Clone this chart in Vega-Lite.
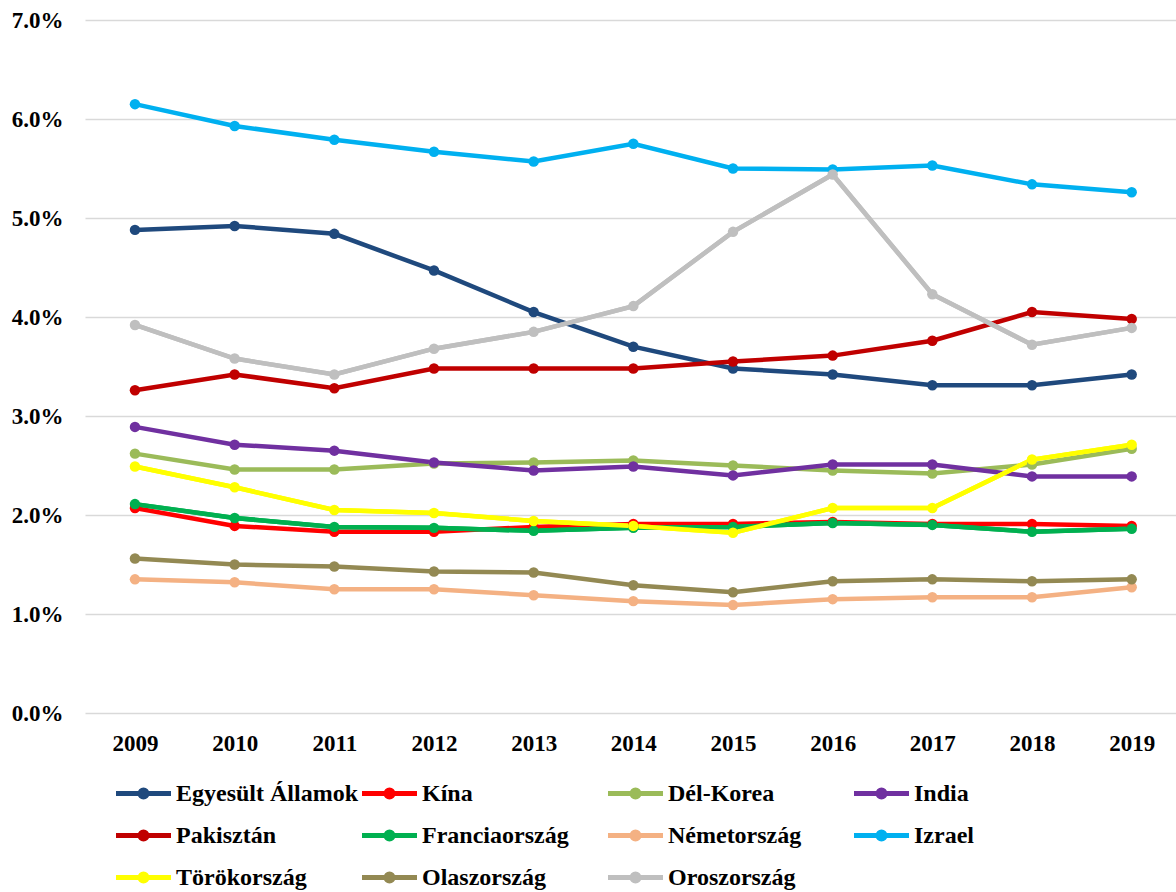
{
  "$schema": "https://vega.github.io/schema/vega-lite/v6.json",
  "autosize": {"type": "none"},
  "width": 1091,
  "height": 693,
  "padding": {"left": 85, "top": 20, "right": 0, "bottom": 179},
  "background": "white",
  "config": {
    "font": "Liberation Serif",
    "view": {"stroke": null}
  },
  "data": {
    "values": [
      {"country": "Egyesült Államok", "year": "2009", "value": 4.88},
      {"country": "Egyesült Államok", "year": "2010", "value": 4.92},
      {"country": "Egyesült Államok", "year": "2011", "value": 4.84},
      {"country": "Egyesült Államok", "year": "2012", "value": 4.47},
      {"country": "Egyesült Államok", "year": "2013", "value": 4.05},
      {"country": "Egyesült Államok", "year": "2014", "value": 3.70},
      {"country": "Egyesült Államok", "year": "2015", "value": 3.48},
      {"country": "Egyesült Államok", "year": "2016", "value": 3.42},
      {"country": "Egyesült Államok", "year": "2017", "value": 3.31},
      {"country": "Egyesült Államok", "year": "2018", "value": 3.31},
      {"country": "Egyesült Államok", "year": "2019", "value": 3.42},
      {"country": "Kína", "year": "2009", "value": 2.07},
      {"country": "Kína", "year": "2010", "value": 1.89},
      {"country": "Kína", "year": "2011", "value": 1.83},
      {"country": "Kína", "year": "2012", "value": 1.83},
      {"country": "Kína", "year": "2013", "value": 1.88},
      {"country": "Kína", "year": "2014", "value": 1.91},
      {"country": "Kína", "year": "2015", "value": 1.91},
      {"country": "Kína", "year": "2016", "value": 1.93},
      {"country": "Kína", "year": "2017", "value": 1.91},
      {"country": "Kína", "year": "2018", "value": 1.91},
      {"country": "Kína", "year": "2019", "value": 1.89},
      {"country": "Dél-Korea", "year": "2009", "value": 2.62},
      {"country": "Dél-Korea", "year": "2010", "value": 2.46},
      {"country": "Dél-Korea", "year": "2011", "value": 2.46},
      {"country": "Dél-Korea", "year": "2012", "value": 2.52},
      {"country": "Dél-Korea", "year": "2013", "value": 2.53},
      {"country": "Dél-Korea", "year": "2014", "value": 2.55},
      {"country": "Dél-Korea", "year": "2015", "value": 2.50},
      {"country": "Dél-Korea", "year": "2016", "value": 2.45},
      {"country": "Dél-Korea", "year": "2017", "value": 2.42},
      {"country": "Dél-Korea", "year": "2018", "value": 2.51},
      {"country": "Dél-Korea", "year": "2019", "value": 2.67},
      {"country": "India", "year": "2009", "value": 2.89},
      {"country": "India", "year": "2010", "value": 2.71},
      {"country": "India", "year": "2011", "value": 2.65},
      {"country": "India", "year": "2012", "value": 2.53},
      {"country": "India", "year": "2013", "value": 2.45},
      {"country": "India", "year": "2014", "value": 2.49},
      {"country": "India", "year": "2015", "value": 2.40},
      {"country": "India", "year": "2016", "value": 2.51},
      {"country": "India", "year": "2017", "value": 2.51},
      {"country": "India", "year": "2018", "value": 2.39},
      {"country": "India", "year": "2019", "value": 2.39},
      {"country": "Pakisztán", "year": "2009", "value": 3.26},
      {"country": "Pakisztán", "year": "2010", "value": 3.42},
      {"country": "Pakisztán", "year": "2011", "value": 3.28},
      {"country": "Pakisztán", "year": "2012", "value": 3.48},
      {"country": "Pakisztán", "year": "2013", "value": 3.48},
      {"country": "Pakisztán", "year": "2014", "value": 3.48},
      {"country": "Pakisztán", "year": "2015", "value": 3.55},
      {"country": "Pakisztán", "year": "2016", "value": 3.61},
      {"country": "Pakisztán", "year": "2017", "value": 3.76},
      {"country": "Pakisztán", "year": "2018", "value": 4.05},
      {"country": "Pakisztán", "year": "2019", "value": 3.98},
      {"country": "Franciaország", "year": "2009", "value": 2.11},
      {"country": "Franciaország", "year": "2010", "value": 1.97},
      {"country": "Franciaország", "year": "2011", "value": 1.88},
      {"country": "Franciaország", "year": "2012", "value": 1.87},
      {"country": "Franciaország", "year": "2013", "value": 1.84},
      {"country": "Franciaország", "year": "2014", "value": 1.87},
      {"country": "Franciaország", "year": "2015", "value": 1.88},
      {"country": "Franciaország", "year": "2016", "value": 1.92},
      {"country": "Franciaország", "year": "2017", "value": 1.90},
      {"country": "Franciaország", "year": "2018", "value": 1.83},
      {"country": "Franciaország", "year": "2019", "value": 1.86},
      {"country": "Németország", "year": "2009", "value": 1.35},
      {"country": "Németország", "year": "2010", "value": 1.32},
      {"country": "Németország", "year": "2011", "value": 1.25},
      {"country": "Németország", "year": "2012", "value": 1.25},
      {"country": "Németország", "year": "2013", "value": 1.19},
      {"country": "Németország", "year": "2014", "value": 1.13},
      {"country": "Németország", "year": "2015", "value": 1.09},
      {"country": "Németország", "year": "2016", "value": 1.15},
      {"country": "Németország", "year": "2017", "value": 1.17},
      {"country": "Németország", "year": "2018", "value": 1.17},
      {"country": "Németország", "year": "2019", "value": 1.27},
      {"country": "Izrael", "year": "2009", "value": 6.15},
      {"country": "Izrael", "year": "2010", "value": 5.93},
      {"country": "Izrael", "year": "2011", "value": 5.79},
      {"country": "Izrael", "year": "2012", "value": 5.67},
      {"country": "Izrael", "year": "2013", "value": 5.57},
      {"country": "Izrael", "year": "2014", "value": 5.75},
      {"country": "Izrael", "year": "2015", "value": 5.50},
      {"country": "Izrael", "year": "2016", "value": 5.49},
      {"country": "Izrael", "year": "2017", "value": 5.53},
      {"country": "Izrael", "year": "2018", "value": 5.34},
      {"country": "Izrael", "year": "2019", "value": 5.26},
      {"country": "Törökország", "year": "2009", "value": 2.49},
      {"country": "Törökország", "year": "2010", "value": 2.28},
      {"country": "Törökország", "year": "2011", "value": 2.05},
      {"country": "Törökország", "year": "2012", "value": 2.02},
      {"country": "Törökország", "year": "2013", "value": 1.94},
      {"country": "Törökország", "year": "2014", "value": 1.89},
      {"country": "Törökország", "year": "2015", "value": 1.82},
      {"country": "Törökország", "year": "2016", "value": 2.07},
      {"country": "Törökország", "year": "2017", "value": 2.07},
      {"country": "Törökország", "year": "2018", "value": 2.56},
      {"country": "Törökország", "year": "2019", "value": 2.71},
      {"country": "Olaszország", "year": "2009", "value": 1.56},
      {"country": "Olaszország", "year": "2010", "value": 1.50},
      {"country": "Olaszország", "year": "2011", "value": 1.48},
      {"country": "Olaszország", "year": "2012", "value": 1.43},
      {"country": "Olaszország", "year": "2013", "value": 1.42},
      {"country": "Olaszország", "year": "2014", "value": 1.29},
      {"country": "Olaszország", "year": "2015", "value": 1.22},
      {"country": "Olaszország", "year": "2016", "value": 1.33},
      {"country": "Olaszország", "year": "2017", "value": 1.35},
      {"country": "Olaszország", "year": "2018", "value": 1.33},
      {"country": "Olaszország", "year": "2019", "value": 1.35},
      {"country": "Oroszország", "year": "2009", "value": 3.92},
      {"country": "Oroszország", "year": "2010", "value": 3.58},
      {"country": "Oroszország", "year": "2011", "value": 3.42},
      {"country": "Oroszország", "year": "2012", "value": 3.68},
      {"country": "Oroszország", "year": "2013", "value": 3.85},
      {"country": "Oroszország", "year": "2014", "value": 4.11},
      {"country": "Oroszország", "year": "2015", "value": 4.86},
      {"country": "Oroszország", "year": "2016", "value": 5.44},
      {"country": "Oroszország", "year": "2017", "value": 4.23},
      {"country": "Oroszország", "year": "2018", "value": 3.72},
      {"country": "Oroszország", "year": "2019", "value": 3.89}
    ]
  },
  "encoding": {
    "x": {
      "field": "year",
      "type": "ordinal",
      "scale": {"type": "point", "padding": 0.473, "align": 0.53},
      "axis": {
        "title": null,
        "domain": false,
        "ticks": false,
        "labelAngle": 0,
        "labelFont": "Liberation Serif",
        "labelFontWeight": "bold",
        "labelFontSize": 23,
        "labelColor": "#000000",
        "labelPadding": 19
      }
    },
    "y": {
      "field": "value",
      "type": "quantitative",
      "scale": {"domain": [0, 7], "nice": false, "zero": true},
      "axis": {
        "title": null,
        "domain": false,
        "ticks": false,
        "values": [0, 1, 2, 3, 4, 5, 6, 7],
        "labelExpr": "format(datum.value, '.1f') + '%'",
        "labelFont": "Liberation Serif",
        "labelFontWeight": "bold",
        "labelFontSize": 23,
        "labelColor": "#000000",
        "labelPadding": 22,
        "grid": true,
        "gridColor": "#D9D9D9",
        "gridWidth": 1.5
      }
    },
    "color": {
      "field": "country",
      "type": "nominal",
      "scale": {
        "domain": ["Egyesült Államok", "Kína", "Dél-Korea", "India", "Pakisztán", "Franciaország", "Németország", "Izrael", "Törökország", "Olaszország", "Oroszország"],
        "range": ["#1F497D", "#FF0000", "#9BBB59", "#7030A0", "#C00000", "#00B050", "#F4B183", "#00B0F0", "#FFFF00", "#938953", "#BFBFBF"]
      },
      "legend": {
        "title": null,
        "orient": "none",
        "direction": "horizontal",
        "legendX": 36,
        "legendY": 751,
        "columns": 4,
        "gridAlign": "all",
        "columnPadding": -7,
        "rowPadding": 6,
        "labelOffset": 10,
        "labelFont": "Liberation Serif",
        "labelFontWeight": "bold",
        "labelFontSize": 24,
        "labelColor": "#000000",
        "labelLimit": 400,
        "symbolType": "M-1.375,0H1.375M-0.175,0A0.175,0.175 0 1,0 0.175,0A0.175,0.175 0 1,0 -0.175,0Z",
        "symbolSize": 1600,
        "symbolStrokeWidth": 5,
        "symbolOpacity": 1,
        "encode": {
          "symbols": {
            "update": {
              "fill": {"scale": "color", "field": "value"},
              "stroke": {"scale": "color", "field": "value"},
              "opacity": {"value": 1}
            }
          }
        }
      }
    }
  },
  "layer": [
    {"mark": {"type": "line", "strokeWidth": 4.5}},
    {
      "transform": [{"filter": {"field": "country", "oneOf": ["Franciaország", "Oroszország", "Törökország"]}}],
      "mark": {"type": "line", "strokeWidth": 4.5}
    },
    {"mark": {"type": "point", "filled": true, "size": 110, "opacity": 1}}
  ]
}
